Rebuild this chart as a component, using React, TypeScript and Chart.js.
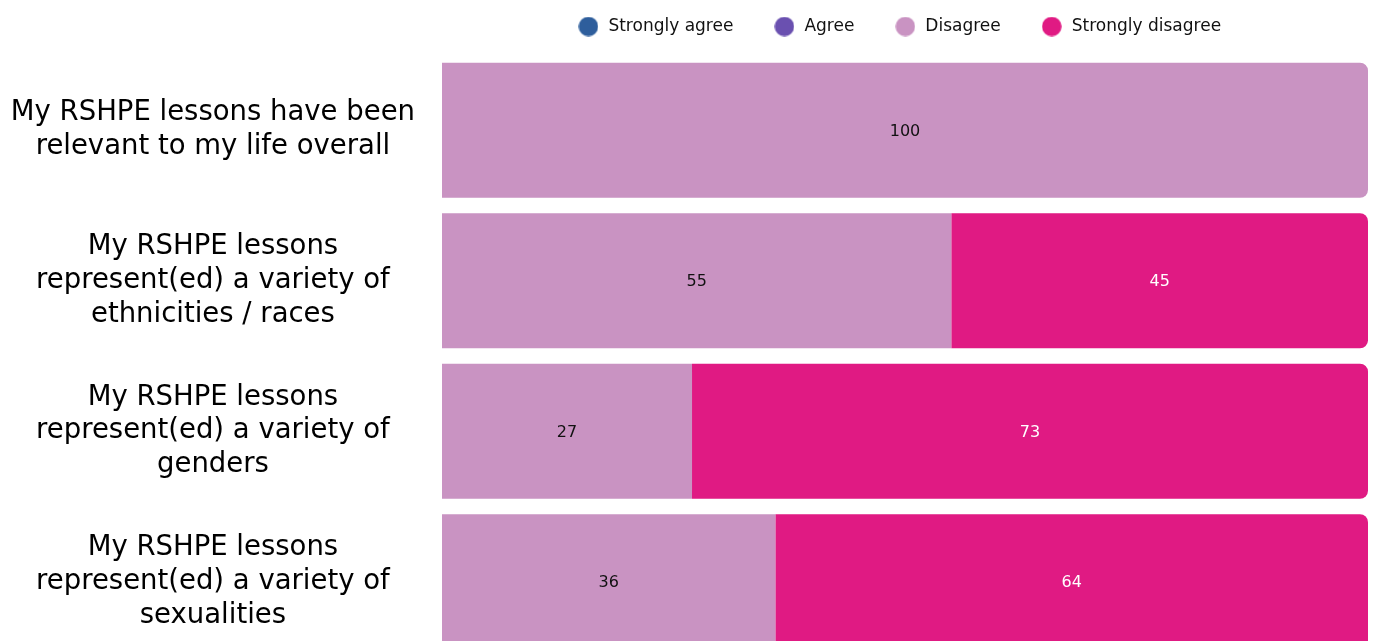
import React, { useEffect, useRef } from "react";
import { Chart, registerables } from "chart.js";

Chart.register(...registerables);

const categories: string[][] = [
  ["My RSHPE lessons have been", "relevant to my life overall"],
  ["My RSHPE lessons", "represent(ed) a variety of", "ethnicities / races"],
  ["My RSHPE lessons", "represent(ed) a variety of", "genders"],
  ["My RSHPE lessons", "represent(ed) a variety of", "sexualities"],
];
const seriesNames = ["Strongly agree", "Agree", "Disagree", "Strongly disagree"];
const stronglyAgree = [0, 0, 0, 0];
const agree = [0, 0, 0, 0];
const disagree = [100, 55, 27, 36];
const stronglyDisagree = [0, 45, 73, 64];
const seriesColors = ["#2E5E9C", "#6A50B0", "#C993C2", "#E01A83"];
const labelColors = ["#ffffff", "#ffffff", "#111111", "#ffffff"];

const FONT = "'DejaVu Sans', sans-serif";

function makeDot(color: string) {
  const c = document.createElement("canvas");
  c.width = 20;
  c.height = 20;
  const g = c.getContext("2d")!;
  g.fillStyle = color;
  g.beginPath();
  g.arc(10, 10, 9.75, 0, Math.PI * 2);
  g.fill();
  return c;
}

const legendPlacer = {
  id: "legendPlacer",
  afterLayout(chart: any) {
    const lg = chart.legend;
    if (!lg) return;
    lg.left = chart.chartArea.left - 12;
    lg.right = chart.chartArea.right;
    lg.width = lg.right - lg.left;
    lg.top = -21.5;
    lg.bottom = chart.chartArea.top;
    lg.height = lg.bottom - lg.top;
  },
};

const valueLabels = {
  id: "valueLabels",
  afterDatasetsDraw(chart: any) {
    const ctx = chart.ctx;
    ctx.save();
    ctx.font = `16px ${FONT}`;
    ctx.textAlign = "center";
    ctx.textBaseline = "middle";
    chart.data.datasets.forEach((ds: any, di: number) => {
      const meta = chart.getDatasetMeta(di);
      if (meta.hidden) return;
      meta.data.forEach((el: any, i: number) => {
        const v = ds.data[i];
        if (!v) return;
        const { x, y, base } = el.getProps(["x", "y", "base"], true);
        ctx.fillStyle = labelColors[di];
        ctx.fillText(String(v), (x + base) / 2, y + 1.5);
      });
    });
    ctx.restore();
  },
};

export default function App() {
  const ref = useRef<HTMLCanvasElement | null>(null);

  useEffect(() => {
    if (!ref.current) return;
    const dots = seriesColors.map(makeDot);
    const values = [stronglyAgree, agree, disagree, stronglyDisagree];
    const chart = new Chart(ref.current, {
      type: "bar",
      data: {
        labels: categories,
        datasets: seriesNames.map((name, i) => ({
          label: name,
          data: values[i],
          backgroundColor: seriesColors[i],
          borderWidth: 0,
          borderSkipped: false,
          barPercentage: 0.897,
          categoryPercentage: 1,
          borderRadius: (ctx: any) => {
            const idx = ctx.dataIndex;
            let last = -1;
            for (let d = values.length - 1; d >= 0; d--) {
              if (values[d][idx] > 0) {
                last = d;
                break;
              }
            }
            const r = ctx.datasetIndex === last ? 8 : 0;
            return { topLeft: 0, bottomLeft: 0, topRight: r, bottomRight: r };
          },
        })),
      },
      options: {
        indexAxis: "y",
        responsive: false,
        maintainAspectRatio: false,
        animation: false,
        layout: { padding: { left: 0, right: 5, top: 0, bottom: 0 } },
        scales: {
          x: {
            stacked: true,
            min: 0,
            max: 100,
            display: false,
          },
          y: {
            stacked: true,
            grid: { display: false, drawTicks: false },
            border: { display: false },
            ticks: {
              crossAlign: "center",
              padding: 27,
              color: "#000000",
              font: { family: FONT, size: 27.5, lineHeight: 1.23 },
            },
            afterFit: (scale: any) => {
              scale.width = 442;
              scale.paddingTop = 0;
              scale.paddingBottom = 0;
            },
          },
        },
        plugins: {
          tooltip: { enabled: false },
          legend: {
            position: "top",
            align: "center",
            maxHeight: 55,
            labels: {
              usePointStyle: true,
              pointStyleWidth: 23,
              padding: 39.5,
              color: "#111111",
              font: { family: FONT, size: 17 },
              generateLabels: (c: any) =>
                (Chart.defaults.plugins.legend.labels as any)
                  .generateLabels(c)
                  .map((it: any) => ({ ...it, pointStyle: dots[it.datasetIndex] })),
            },
          },
        },
      } as any,
      plugins: [legendPlacer, valueLabels],
    });
    return () => chart.destroy();
  }, []);

  return (
    <div
      style={{
        position: "absolute",
        left: 0,
        top: 0,
        width: 1373,
        height: 641,
        overflow: "hidden",
        background: "#ffffff",
      }}
    >
      <canvas ref={ref} width={1373} height={657} style={{ display: "block" }} />
    </div>
  );
}
